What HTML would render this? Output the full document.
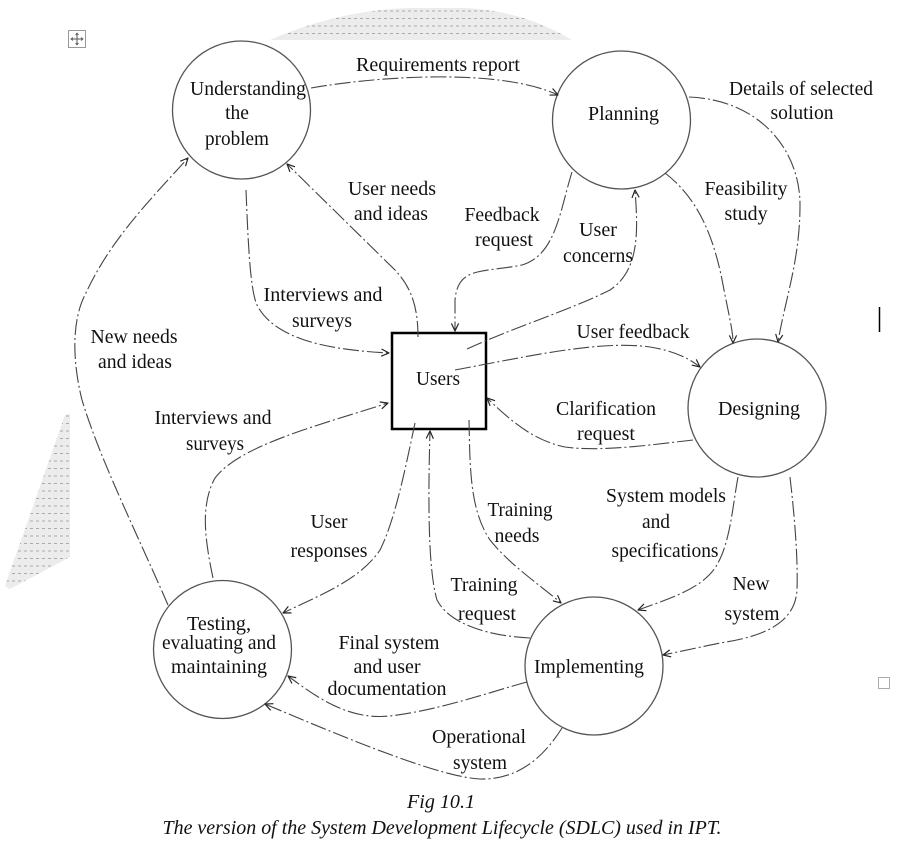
<!DOCTYPE html>
<html>
<head>
<meta charset="utf-8">
<style>
html,body{margin:0;padding:0;background:#fff;}
svg{display:block;}
text{font-family:"Liberation Serif","Times New Roman",serif;font-size:19.5px;fill:#111;}
.it{font-style:italic;}
</style>
</head>
<body>
<svg width="899" height="860" viewBox="0 0 899 860" xmlns="http://www.w3.org/2000/svg">
<defs>
  <marker id="ar" viewBox="0 0 10 10" refX="9.5" refY="5" markerWidth="9" markerHeight="9" markerUnits="userSpaceOnUse" orient="auto">
    <path d="M1,1 L9.5,5 L1,9" fill="none" stroke="#222" stroke-width="1.3"/>
  </marker>
  <pattern id="dots" x="0" y="0" width="6" height="7.5" patternUnits="userSpaceOnUse">
    <rect width="6" height="7.5" fill="#ececec"/>
    <rect x="0" y="3" width="3" height="1" fill="#aaa"/>
  </pattern>
</defs>

<!-- gray artifacts -->
<path d="M270,40 C320,18 370,9 410,8 L465,8 C510,10 545,24 572,40 Z" fill="url(#dots)"/>
<polygon points="65,415 70,414 70,557 10,589 5,586" fill="url(#dots)"/>

<!-- small icons -->
<rect x="68.5" y="30.5" width="17" height="17" fill="none" stroke="#999" stroke-width="1"/>
<path d="M77,33 L77,45 M71,39 L83,39" stroke="#555" stroke-width="1"/>
<path d="M75.5,35 L77,33 L78.5,35 M75.5,43 L77,45 L78.5,43 M73,37.5 L71,39 L73,40.5 M81,37.5 L83,39 L81,40.5" stroke="#555" stroke-width="0.8" fill="none"/>
<rect x="878.5" y="677.5" width="11" height="11" fill="none" stroke="#aaa" stroke-width="1"/>
<line x1="879.5" y1="307" x2="879.5" y2="332" stroke="#000" stroke-width="1.5"/>

<!-- circles -->
<g fill="none" stroke="#555" stroke-width="1.3">
  <circle cx="241.5" cy="110" r="69"/>
  <circle cx="621.5" cy="120" r="69"/>
  <circle cx="757" cy="408" r="69"/>
  <circle cx="222.5" cy="649.5" r="69"/>
  <circle cx="594" cy="666" r="69"/>
</g>
<rect x="392" y="333" width="94" height="96" fill="none" stroke="#000" stroke-width="2.5"/>

<!-- connectors -->
<g fill="none" stroke="#444" stroke-width="1.1" stroke-dasharray="16 3 2 3" marker-end="url(#ar)">
  <!-- Requirements report -->
  <path d="M311,88 C380,76 500,68 558,95"/>
  <!-- Details of selected solution -->
  <path d="M689,97 C760,100 800,150 800,205 C800,260 785,300 778,342"/>
  <!-- Feasibility study -->
  <path d="M665,173 C700,200 715,240 724,290 C730,320 733,332 733,343"/>
  <!-- Feedback request -->
  <path d="M572,172 C560,210 556,255 522,265 C482,273 458,266 455,300 L455,331"/>
  <!-- User concerns -->
  <path d="M467,349 C520,325 570,310 610,290 C640,270 638,230 635,190"/>
  <!-- User feedback -->
  <path d="M455,370 C530,356 600,340 650,347 C675,351 690,359 700,367"/>
  <!-- Clarification request -->
  <path d="M693,440 C650,445 600,452 565,447 C530,440 505,415 487,398"/>
  <!-- User needs and ideas -->
  <path d="M418,337 C418,308 412,288 395,270 L287,164"/>
  <!-- Interviews and surveys (top) -->
  <path d="M246,190 C248,240 250,290 257,305 C275,340 330,350 389,353"/>
  <!-- New needs and ideas -->
  <path d="M168,605 C140,540 100,460 82,400 C72,360 72,320 85,295 C110,240 150,200 188,158"/>
  <!-- Interviews and surveys (bottom) -->
  <path d="M213,578 C205,540 200,505 215,478 C240,445 320,425 388,403"/>
  <!-- User responses -->
  <path d="M415,423 C405,470 395,520 380,550 C360,580 320,595 283,613"/>
  <!-- Training needs -->
  <path d="M469,420 C470,470 470,510 490,540 C510,565 540,585 561,603"/>
  <!-- Training request -->
  <path d="M530,638 C490,636 450,625 437,600 C428,570 428,500 430,431"/>
  <!-- System models and specifications -->
  <path d="M738,477 C732,510 730,545 715,568 C700,590 665,600 638,610"/>
  <!-- New system -->
  <path d="M790,477 C795,520 798,560 797,590 C795,625 760,637 720,643 L663,655"/>
  <!-- Final system and user documentation -->
  <path d="M527,682 C490,692 440,710 390,716 C350,720 320,700 288,676"/>
  <!-- Operational system -->
  <path d="M562,728 C545,755 520,780 480,779 C440,777 350,740 265,704"/>
</g>

<!-- labels -->
<g text-anchor="middle">
  <text x="438" y="71" textLength="164" lengthAdjust="spacingAndGlyphs">Requirements report</text>

  <text x="248" y="95" textLength="116" lengthAdjust="spacingAndGlyphs">Understanding</text>
  <text x="237" y="119">the</text>
  <text x="237" y="145" textLength="64" lengthAdjust="spacingAndGlyphs">problem</text>

  <text x="623.5" y="120" textLength="71" lengthAdjust="spacingAndGlyphs">Planning</text>

  <text x="801" y="95" textLength="144" lengthAdjust="spacingAndGlyphs">Details of selected</text>
  <text x="802" y="119" textLength="63" lengthAdjust="spacingAndGlyphs">solution</text>

  <text x="746" y="195" textLength="83" lengthAdjust="spacingAndGlyphs">Feasibility</text>
  <text x="746" y="220" textLength="43" lengthAdjust="spacingAndGlyphs">study</text>

  <text x="502" y="221" textLength="75" lengthAdjust="spacingAndGlyphs">Feedback</text>
  <text x="504" y="246" textLength="58" lengthAdjust="spacingAndGlyphs">request</text>

  <text x="598" y="236" textLength="38" lengthAdjust="spacingAndGlyphs">User</text>
  <text x="598" y="262" textLength="70" lengthAdjust="spacingAndGlyphs">concerns</text>

  <text x="392" y="195" textLength="88" lengthAdjust="spacingAndGlyphs">User needs</text>
  <text x="391" y="220" textLength="74" lengthAdjust="spacingAndGlyphs">and ideas</text>

  <text x="323" y="301" textLength="119" lengthAdjust="spacingAndGlyphs">Interviews and</text>
  <text x="322" y="327" textLength="60" lengthAdjust="spacingAndGlyphs">surveys</text>

  <text x="134" y="343" textLength="87" lengthAdjust="spacingAndGlyphs">New needs</text>
  <text x="135" y="368" textLength="74" lengthAdjust="spacingAndGlyphs">and ideas</text>

  <text x="438" y="385" textLength="44" lengthAdjust="spacingAndGlyphs">Users</text>

  <text x="633" y="338" textLength="113" lengthAdjust="spacingAndGlyphs">User feedback</text>

  <text x="606" y="415" textLength="100" lengthAdjust="spacingAndGlyphs">Clarification</text>
  <text x="606" y="440" textLength="58" lengthAdjust="spacingAndGlyphs">request</text>

  <text x="759" y="415" textLength="82" lengthAdjust="spacingAndGlyphs">Designing</text>

  <text x="213" y="424" textLength="117" lengthAdjust="spacingAndGlyphs">Interviews and</text>
  <text x="215" y="450" textLength="58" lengthAdjust="spacingAndGlyphs">surveys</text>

  <text x="329" y="528" textLength="37" lengthAdjust="spacingAndGlyphs">User</text>
  <text x="329" y="557" textLength="77" lengthAdjust="spacingAndGlyphs">responses</text>

  <text x="520" y="516" textLength="65" lengthAdjust="spacingAndGlyphs">Training</text>
  <text x="517" y="542" textLength="45" lengthAdjust="spacingAndGlyphs">needs</text>

  <text x="666" y="502" textLength="120" lengthAdjust="spacingAndGlyphs">System models</text>
  <text x="656" y="528" textLength="28" lengthAdjust="spacingAndGlyphs">and</text>
  <text x="665" y="557" textLength="107" lengthAdjust="spacingAndGlyphs">specifications</text>

  <text x="484" y="591" textLength="67" lengthAdjust="spacingAndGlyphs">Training</text>
  <text x="487" y="620" textLength="58" lengthAdjust="spacingAndGlyphs">request</text>

  <text x="751" y="590" textLength="37" lengthAdjust="spacingAndGlyphs">New</text>
  <text x="752" y="620" textLength="55" lengthAdjust="spacingAndGlyphs">system</text>

  <text x="219" y="630" textLength="64" lengthAdjust="spacingAndGlyphs">Testing,</text>
  <text x="219" y="649" textLength="114" lengthAdjust="spacingAndGlyphs">evaluating and</text>
  <text x="219" y="673" textLength="96" lengthAdjust="spacingAndGlyphs">maintaining</text>

  <text x="389" y="649" textLength="101" lengthAdjust="spacingAndGlyphs">Final system</text>
  <text x="387" y="673" textLength="67" lengthAdjust="spacingAndGlyphs">and user</text>
  <text x="387" y="695" textLength="119" lengthAdjust="spacingAndGlyphs">documentation</text>

  <text x="589" y="673" textLength="110" lengthAdjust="spacingAndGlyphs">Implementing</text>

  <text x="479" y="743" textLength="94" lengthAdjust="spacingAndGlyphs">Operational</text>
  <text x="480" y="769" textLength="54" lengthAdjust="spacingAndGlyphs">system</text>

  <text class="it" x="441" y="808" textLength="68" lengthAdjust="spacingAndGlyphs">Fig 10.1</text>
  <text class="it" x="442" y="834" textLength="559" lengthAdjust="spacingAndGlyphs">The version of the System Development Lifecycle (SDLC) used in IPT.</text>
</g>
</svg>
</body>
</html>
